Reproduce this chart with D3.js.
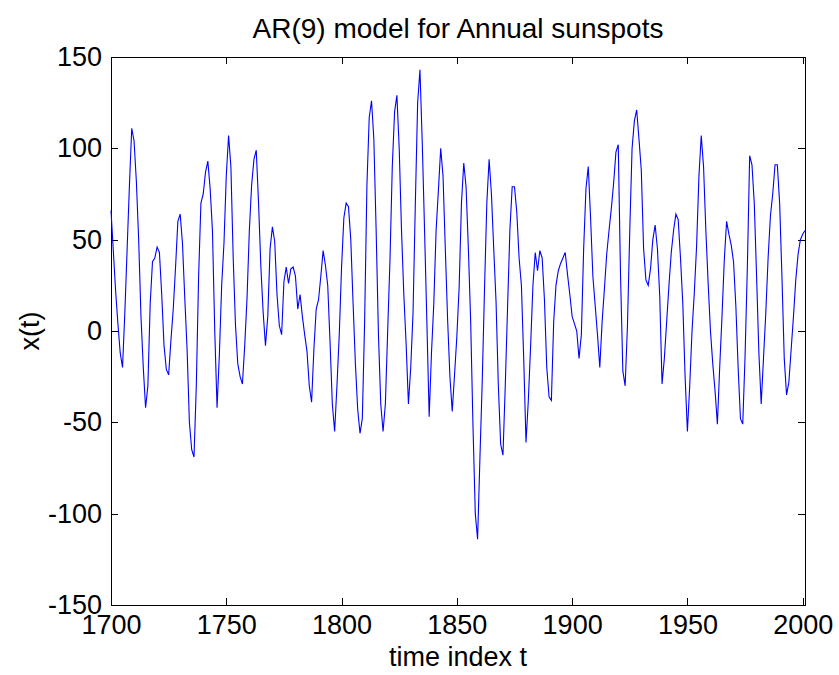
<!DOCTYPE html>
<html>
<head>
<meta charset="utf-8">
<script src="https://cdn.jsdelivr.net/npm/d3@7"></script>
<style>
	body { margin: 0; background: #fff; }
	svg { display: block; }
	text { font-family: 'Liberation Sans', Arial, Helvetica, sans-serif; fill: #000; }
</style>
</head>
<body>
<svg id="chart" width="839" height="675"></svg>
<script>
	// AR(9) simulated series, one value per year, 1700..2001
	var startYear = 1700;
	var values = [
		66, 44, 22, 4, -12, -20, 10, 45, 80, 111,        // 1700
		104, 82, 50, 8, -20, -42, -30, 15, 38, 40,       // 1710
		46, 43, 20, -8, -21, -24, -5, 12, 35, 60,        // 1720
		64, 48, 18, -10, -50, -65, -69, -30, 30, 70,     // 1730
		75, 87, 93, 78, 55, 0, -42, -13, 25, 48,         // 1740
		85, 107, 90, 40, 3, -18, -25, -29, -8, 18,       // 1750
		55, 80, 94, 99, 70, 35, 10, -8, 8, 45,           // 1760
		57, 49, 20, 3, -2, 27, 35, 26, 34, 35,           // 1770
		30, 12, 20, 8, -2, -11, -30, -39, -10, 12,       // 1780
		17, 30, 44, 36, 25, -6, -40, -55, -30, -2,       // 1790
		35, 62, 70, 68, 50, 15, -18, -43, -56, -48,      // 1800
		5, 80, 117, 126, 105, 55, -2, -40, -55, -40,     // 1810
		0, 39, 90, 120, 129, 100, 55, 20, -7, -40,       // 1820
		-20, 10, 70, 125, 143, 103, 55, 5, -47, -12,     // 1830
		15, 55, 77, 100, 85, 45, 6, -25, -44, -24,       // 1840
		-3, 24, 70, 92, 79, 45, 5, -52, -100, -114,      // 1850
		-70, -28, 23, 70, 94, 75, 45, 16, -30, -62,      // 1860
		-68, -30, 13, 55, 79, 79, 65, 40, 25, -15,       // 1870
		-61, -38, -8, 25, 43, 33, 44, 40, 17, -20,       // 1880
		-36, -38, 5, 25, 33, 37, 40, 43, 31, 20,         // 1890
		8, 4, 0, -15, -2, 45, 78, 90, 62, 30,            // 1900
		14, -2, -20, 5, 23, 42, 55, 67, 81, 98,          // 1910
		102, 30, -22, -30, 3, 55, 100, 115, 121, 105,    // 1920
		88, 45, 28, 25, 34, 50, 58, 45, 19, -29,         // 1930
		-15, 5, 25, 43, 55, 64, 61, 40, 15, -25,         // 1940
		-55, -30, 0, 21, 47, 85, 107, 90, 55, 26,        // 1950
		0, -18, -33, -51, -20, 8, 39, 60, 53, 47,        // 1960
		38, 14, -20, -48, -51, -14, 35, 96, 91, 70,      // 1970
		30, -12, -40, -15, 10, 40, 63, 75, 91, 91,       // 1980
		70, 30, -15, -35, -28, -10, 8, 28, 42, 50,       // 1990
		53, 55                                           // 2000
	];

	var xTicks = [1700, 1750, 1800, 1850, 1900, 1950, 2000];
	var yTicks = [-150, -100, -50, 0, 50, 100, 150];

	var titleText = 'AR(9) model for Annual sunspots';
	var xLabelText = 'time index t';
	var yLabelText = 'x(t)';

	var data = values.map(function(v, i){
		return { t : startYear + i, x : v };
	});

	var plot = { left : 111, right : 805, top : 57, bottom : 605 };

	var svg = d3.select('#chart');

	svg.append('rect')
		.attr('width', 839)
		.attr('height', 675)
		.attr('fill', '#fff');

	var x = d3.scaleLinear().domain([1700, 2001]).range([plot.left, plot.right]);
	var y = d3.scaleLinear().domain([-150, 150]).range([plot.bottom, plot.top]);

	var fmt = function(d){ return String(d); };
	var tickLen = 7;

	// bottom axis with labels, inward ticks
	var gBottom = svg.append('g')
		.attr('transform', 'translate(0,' + plot.bottom + ')')
		.call(d3.axisBottom(x).tickValues(xTicks).tickFormat(fmt)
			.tickSizeInner(-tickLen).tickSizeOuter(0).tickPadding(10));

	var gLeft = svg.append('g')
		.attr('transform', 'translate(' + plot.left + ',0)')
		.call(d3.axisLeft(y).tickValues(yTicks).tickFormat(fmt)
			.tickSizeInner(-tickLen).tickSizeOuter(0).tickPadding(9));

	// top / right: ticks only (box)
	var gTop = svg.append('g')
		.attr('transform', 'translate(0,' + plot.top + ')')
		.call(d3.axisTop(x).tickValues(xTicks).tickFormat('')
			.tickSizeInner(-tickLen).tickSizeOuter(0));

	var gRight = svg.append('g')
		.attr('transform', 'translate(' + plot.right + ',0)')
		.call(d3.axisRight(y).tickValues(yTicks).tickFormat('')
			.tickSizeInner(-tickLen).tickSizeOuter(0));

	[gBottom, gLeft, gTop, gRight].forEach(function(g){
		g.attr('font-family', null).attr('font-size', null);
		g.selectAll('path, line')
			.attr('stroke', '#000')
			.attr('stroke-width', 1)
			.attr('shape-rendering', 'crispEdges');
		g.selectAll('text')
			.attr('fill', '#000')
			.style('font-size', '27px');
	});

	// the series
	var line = d3.line()
		.x(function(d){ return x(d.t); })
		.y(function(d){ return y(d.x); });

	svg.append('path')
		.datum(data)
		.attr('d', line)
		.attr('fill', 'none')
		.attr('stroke', '#0000ff')
		.attr('stroke-width', 1.1);

	// title and axis labels
	var midX = (plot.left + plot.right) / 2;

	svg.append('text')
		.attr('x', midX)
		.attr('y', 38)
		.attr('text-anchor', 'middle')
		.style('font-size', '28px')
		.text(titleText);

	svg.append('text')
		.attr('x', midX)
		.attr('y', 666)
		.attr('text-anchor', 'middle')
		.style('font-size', '27px')
		.text(xLabelText);

	svg.append('text')
		.attr('transform', 'translate(39,' + ((plot.top + plot.bottom) / 2) + ') rotate(-90)')
		.attr('text-anchor', 'middle')
		.style('font-size', '27px')
		.text(yLabelText);
</script>
</body>
</html>
